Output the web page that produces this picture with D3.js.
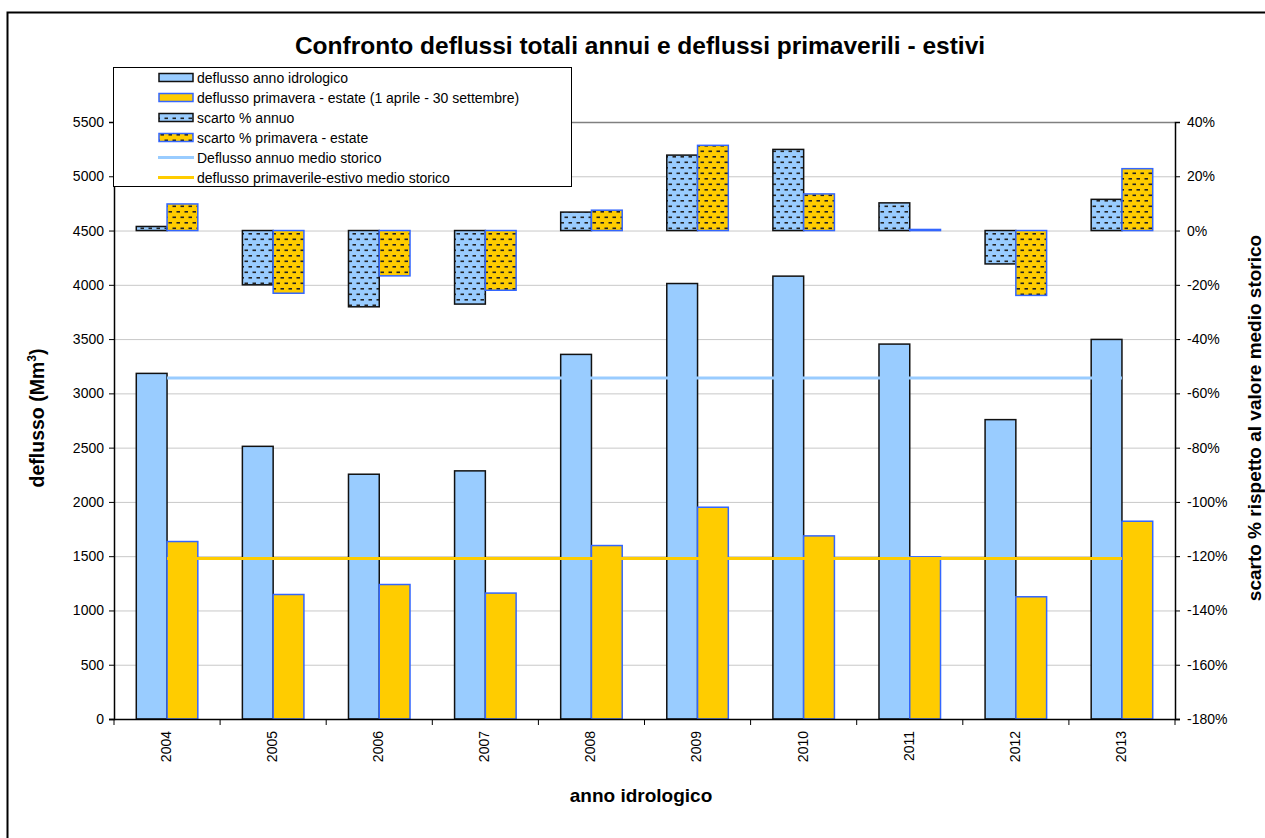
<!DOCTYPE html>
<html><head><meta charset="utf-8">
<script src="https://cdn.jsdelivr.net/npm/d3@7"></script>
<style>html,body{margin:0;background:#fff;overflow:hidden;} svg{display:block;overflow:hidden;font-family:"Liberation Sans",Arial,sans-serif;}</style>
</head><body>
<svg id="c" width="1265" height="838"></svg>
<script>
const years = ["2004","2005","2006","2007","2008","2009","2010","2011","2012","2013"];
const deflussoAnnuo = [3184,2512,2255,2286,3359,4012,4080,3454,2758,3497];
const deflussoPrimEst = [1635,1147,1239,1160,1598,1951,1687,1494,1126,1822];
const scartoAnnuo = [1.5,-20.0,-28.1,-27.1,6.8,27.8,29.9,10.2,-12.3,11.5];
const scartoPrimEst = [9.8,-23.1,-16.7,-22.0,7.5,31.4,13.5,0.4,-23.9,22.8];
const medioAnnuo = 3141;
const medioPrimEst = 1478;
const leftTicks = [0,500,1000,1500,2000,2500,3000,3500,4000,4500,5000,5500];
const rightTicks = [-180,-160,-140,-120,-100,-80,-60,-40,-20,0,20,40];
const legendLabels = ["deflusso anno idrologico","deflusso primavera - estate (1 aprile - 30 settembre)","scarto % annuo","scarto % primavera - estate","Deflusso annuo medio storico","deflusso primaverile-estivo medio storico"];

const BLUE = "#99CCFF", YEL = "#FFCC00", EDGE2 = "#3366FF";
const svg = d3.select("#c");
const L = 114, R = 1175, T = 122, B = 719;

const yL = d3.scaleLinear().domain([0,5500]).range([B,T]);
const yR = d3.scaleLinear().domain([-180,40]).range([B,T]);
const x0 = d3.scaleBand().domain(years).range([L,R]).paddingInner(0.42).paddingOuter(0.21);
const x1 = d3.scaleBand().domain(["a","s"]).range([0,x0.bandwidth()]);
const step = x0.step();

// patterns
const defs = svg.append("defs");
function pat(id, bg){
  const p = defs.append("pattern").attr("id",id).attr("patternUnits","userSpaceOnUse")
    .attr("width",8).attr("height",11);
  p.append("rect").attr("width",8).attr("height",11).attr("fill",bg);
  p.append("rect").attr("x",0.5).attr("y",2).attr("width",3.5).attr("height",1.6).attr("fill","#222");
  p.append("rect").attr("x",4.5).attr("y",7.5).attr("width",3.5).attr("height",1.6).attr("fill","#222");
}
pat("pb", BLUE); pat("py", YEL);

// outer border
svg.append("rect").attr("x",7.5).attr("y",12.5).attr("width",1500).attr("height",1000)
  .attr("fill","none").attr("stroke","#000").attr("stroke-width",2);

// title
svg.append("text").attr("x",640).attr("y",54).attr("text-anchor","middle")
  .attr("font-weight","bold").attr("font-size",24.5).text("Confronto deflussi totali annui e deflussi primaverili - estivi");

// gridlines
svg.append("g").selectAll("line").data(leftTicks.filter(d=>d>0)).join("line")
  .attr("x1",L).attr("x2",R).attr("y1",d=>yL(d)+0.5).attr("y2",d=>yL(d)+0.5)
  .attr("stroke",d=>d===5500?"#808080":"#c8c8c8").attr("stroke-width",d=>d===5500?1.5:1);

// value bars
const g = svg.append("g");
g.selectAll(".ba").data(years).join("rect")
  .attr("x",(d)=>x0(d)+x1("a")).attr("width",x1.bandwidth())
  .attr("y",(d,i)=>yL(deflussoAnnuo[i])).attr("height",(d,i)=>yL(0)-yL(deflussoAnnuo[i]))
  .attr("fill",BLUE).attr("stroke","#111").attr("stroke-width",1.5);
g.selectAll(".bs").data(years).join("rect")
  .attr("x",(d)=>x0(d)+x1("s")).attr("width",x1.bandwidth())
  .attr("y",(d,i)=>yL(deflussoPrimEst[i])).attr("height",(d,i)=>yL(0)-yL(deflussoPrimEst[i]))
  .attr("fill",YEL).attr("stroke",EDGE2).attr("stroke-width",1.5);

// percent bars
g.selectAll(".pa").data(years).join("rect")
  .attr("x",(d)=>x0(d)+x1("a")).attr("width",x1.bandwidth())
  .attr("y",(d,i)=>Math.min(yR(0),yR(scartoAnnuo[i]))).attr("height",(d,i)=>Math.abs(yR(0)-yR(scartoAnnuo[i])))
  .attr("fill","url(#pb)").attr("stroke","#111").attr("stroke-width",1.5);
g.selectAll(".ps").data(years).join("rect")
  .attr("x",(d)=>x0(d)+x1("s")).attr("width",x1.bandwidth())
  .attr("y",(d,i)=>Math.min(yR(0),yR(scartoPrimEst[i]))).attr("height",(d,i)=>Math.abs(yR(0)-yR(scartoPrimEst[i])))
  .attr("fill","url(#py)").attr("stroke",EDGE2).attr("stroke-width",1.5);

// average lines
const cx = d => x0(d)+x0.bandwidth()/2;
const line = d3.line().x(d=>cx(d[0])).y(d=>d[1]);
svg.append("path").attr("d",line(years.map(y=>[y,yL(medioAnnuo)]))).attr("fill","none").attr("stroke",BLUE).attr("stroke-width",3);
svg.append("path").attr("d",line(years.map(y=>[y,yL(medioPrimEst)]))).attr("fill","none").attr("stroke",YEL).attr("stroke-width",3);

// axes
const axL = svg.append("g").attr("transform",`translate(${L},0)`)
  .call(d3.axisLeft(yL).tickValues(leftTicks).tickSize(5).tickPadding(5).tickFormat(d3.format("d")));
const axR = svg.append("g").attr("transform",`translate(${R},0)`)
  .call(d3.axisRight(yR).tickValues(rightTicks).tickSize(5).tickPadding(7).tickFormat(d=>d+"%"));
[axL,axR].forEach(a=>{a.select(".domain").attr("stroke","#000").attr("stroke-width",1.5);
  a.selectAll("text").attr("font-size",14).attr("fill","#000").attr("font-family","Liberation Sans, Arial");
  a.selectAll(".tick line").attr("stroke","#000");});

const axB = svg.append("g").attr("transform",`translate(0,${B})`)
  .call(d3.axisBottom(x0).tickSize(0).tickPadding(0));
axB.select(".domain").attr("d",`M${L-5},0.5H${R+5}`).attr("stroke","#000").attr("stroke-width",1.5);
axB.selectAll(".tick text").attr("transform","translate(-1,12) rotate(-90)").attr("text-anchor","end")
  .attr("dy","0.35em").attr("y",0).attr("x",0).attr("font-size",14).attr("fill","#000").attr("font-family","Liberation Sans, Arial");
axB.selectAll(".bt").data(d3.range(years.length+1)).join("line")
  .attr("x1",k=>L+k*step).attr("x2",k=>L+k*step).attr("y1",0).attr("y2",6).attr("stroke","#000");

// axis titles
svg.append("text").attr("transform","translate(44,418) rotate(-90)").attr("text-anchor","middle")
  .attr("font-weight","bold").attr("font-size",19.5)
  .call(t=>{t.append("tspan").text("deflusso (Mm");t.append("tspan").attr("font-size",12).attr("dy",-8).text("3");t.append("tspan").attr("dy",8).text(")");});
svg.append("text").attr("transform","translate(1261,418) rotate(-90)").attr("text-anchor","middle")
  .attr("font-weight","bold").attr("font-size",19).text("scarto % rispetto al valore medio storico");
svg.append("text").attr("x",641).attr("y",802).attr("text-anchor","middle")
  .attr("font-weight","bold").attr("font-size",19).text("anno idrologico");

// legend
const lg = svg.append("g");
lg.append("rect").attr("x",113.5).attr("y",67.5).attr("width",458).attr("height",119).attr("fill","#fff").attr("stroke","#000").attr("stroke-width",1);
const fills = [BLUE,YEL,"url(#pb)","url(#py)"];
const strokes = ["#111",EDGE2,"#111",EDGE2];
legendLabels.forEach((lab,i)=>{
  const yc = 77.5 + i*20;
  if(i<4){
    lg.append("rect").attr("x",159).attr("y",yc-4).attr("width",34).attr("height",8)
      .attr("fill",fills[i]).attr("stroke",strokes[i]).attr("stroke-width",1.5);
  } else {
    lg.append("line").attr("x1",158).attr("x2",194).attr("y1",yc).attr("y2",yc)
      .attr("stroke",i===4?BLUE:YEL).attr("stroke-width",3);
  }
  lg.append("text").attr("x",197).attr("y",yc).attr("dy","0.36em").attr("font-size",14).text(lab);
});
</script>
</body></html>
